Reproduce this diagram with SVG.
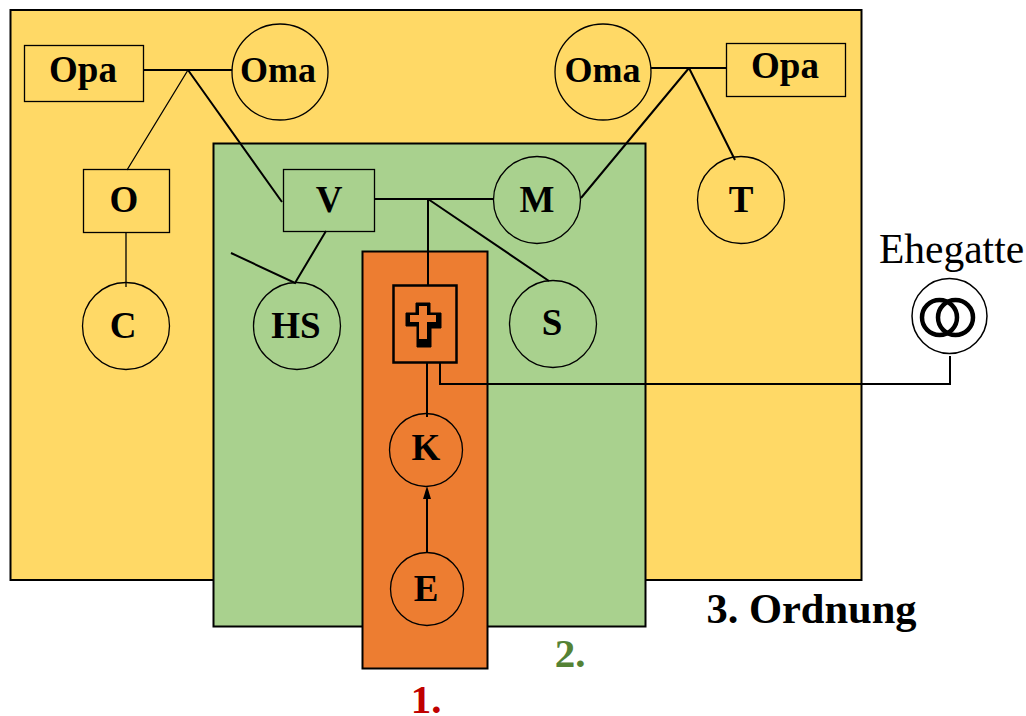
<svg xmlns="http://www.w3.org/2000/svg" width="1026" height="716" viewBox="0 0 1026 716">
<style>
.n{fill:none;stroke:#000;stroke-width:1.300}
.c{fill:none;stroke:#000;stroke-width:2}
.t{font-family:"Liberation Serif",serif;font-weight:bold;font-size:37px;fill:#000;text-anchor:middle}
.o{font-size:36px}
.l{font-family:"Liberation Serif",serif;font-weight:bold;text-anchor:middle}
</style>
<defs><marker id="ah" markerUnits="userSpaceOnUse" markerWidth="13" markerHeight="8" refX="9" refY="4" orient="auto" viewBox="0 0 13 8"><path d="M0 0L13 4L0 8Z" fill="#000"/></marker></defs>
<rect width="1026" height="716" fill="#fff"/>
<g id="ordnung3"><rect x="10.500" y="10" width="851" height="570" fill="#ffd966" stroke="#000" stroke-width="2"/></g>
<g id="ordnung2"><rect x="213.500" y="143.500" width="432" height="483" fill="#a9d18e" stroke="#000" stroke-width="2"/></g>
<g id="ordnung1"><rect x="362.500" y="251.500" width="125" height="417" fill="#ed7d31" stroke="#000" stroke-width="2"/></g>
<g id="connectors">
<path class="c" d="M144 70H232M188 70L282 202"/>
<path class="n" d="M188 70L127 170M126 232V287"/>
<path class="c" d="M651 68H727M689 68L581 198M689 68L735 160"/>
<path class="c" d="M375 199H494M428 199V285M428 199L549 281"/>
<path class="c" d="M326 231L295 283L231 253"/>
<path class="c" d="M427 363V417"/>
<path class="c" d="M440 363V384H950V356"/>
<path class="c" d="M427 553V490" marker-end="url(#ah)"/>
</g>
<g id="opa-l"><rect class="n" x="24.500" y="45.500" width="119" height="56"/><text class="t" x="83" y="82">Opa</text></g>
<g id="oma-l"><circle class="n" cx="280" cy="72" r="48"/><text class="t o" x="278" y="82">Oma</text></g>
<g id="oma-r"><circle class="n" cx="603" cy="72" r="48"/><text class="t o" x="602.500" y="82">Oma</text></g>
<g id="opa-r"><rect class="n" x="726.500" y="43.500" width="119" height="53"/><text class="t" x="785" y="78">Opa</text></g>
<g id="o"><rect class="n" x="83.500" y="169.500" width="86" height="63"/><text class="t" x="124" y="212">O</text></g>
<g id="c"><circle class="n" cx="126" cy="326" r="43.500"/><text class="t" x="123" y="338">C</text></g>
<g id="v"><rect class="n" x="283.500" y="169.500" width="91" height="62"/><text class="t" x="329" y="212">V</text></g>
<g id="m"><circle class="n" cx="537" cy="200" r="43.500"/><text class="t" x="537" y="212">M</text></g>
<g id="t"><circle class="n" cx="741" cy="200" r="43.500"/><text class="t" x="741" y="212">T</text></g>
<g id="hs"><circle class="n" cx="297" cy="326" r="43.500"/><text class="t" x="296" y="338">HS</text></g>
<g id="s"><circle class="n" cx="553" cy="324" r="43.500"/><text class="t" x="552" y="335">S</text></g>
<g id="deceased"><rect x="393.500" y="285.500" width="63" height="77" fill="none" stroke="#000" stroke-width="2.500"/>
<path d="M416 303H430V313H441V328H431V347H417V326H406V313H416Z" fill="#000" stroke="#000" stroke-width="1" stroke-linejoin="round"/>
<path d="M419 306H427V315H436V322H427V339H419V322H410V315H419Z" fill="#ed7d31"/></g>
<g id="k"><circle class="n" cx="426" cy="450" r="36.500"/><text class="t" x="426" y="460">K</text></g>
<g id="e"><circle class="n" cx="427" cy="589" r="36.500"/><text class="t" x="426" y="601">E</text></g>
<g id="ehegatte"><text x="951.500" y="263" font-family="'Liberation Serif',serif" font-size="41.500" text-anchor="middle">Ehegatte</text>
<circle cx="949.500" cy="316" r="37.500" fill="#fff" stroke="#000" stroke-width="1.500"/>
<circle cx="939.500" cy="317.500" r="17.500" fill="none" stroke="#000" stroke-width="4.500"/>
<circle cx="955.500" cy="317.500" r="17.500" fill="none" stroke="#000" stroke-width="4.500"/></g>
<text class="l" x="811.500" y="623" font-size="42.500">3. Ordnung</text>
<text class="l" x="570" y="667" font-size="41" fill="#548235">2.</text>
<text class="l" x="426" y="712.500" font-size="41" fill="#c00000">1.</text>
</svg>
